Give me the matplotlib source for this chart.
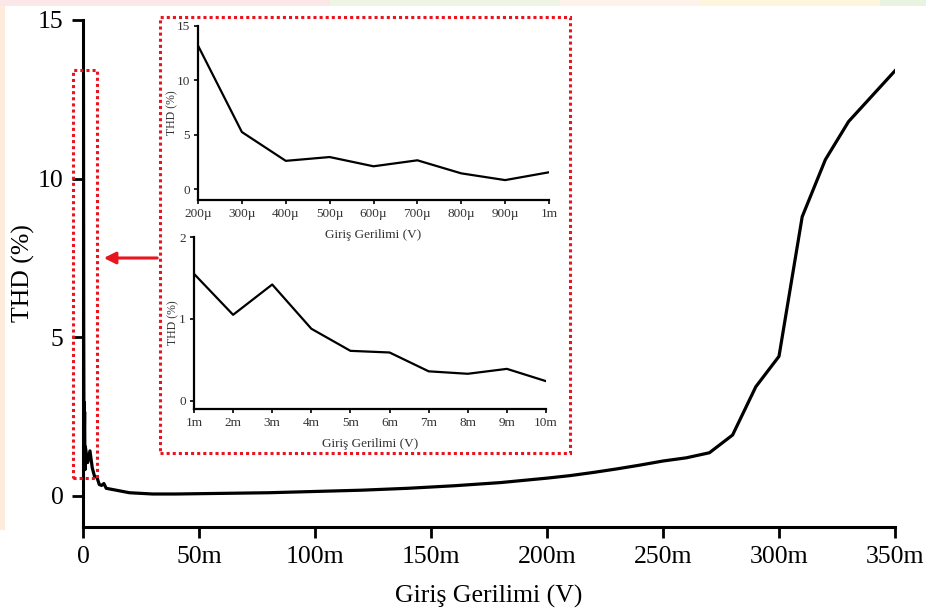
import numpy as np
import matplotlib.pyplot as plt
from matplotlib.patches import Rectangle, FancyArrowPatch

plt.rcParams['font.family'] = ['Liberation Serif', 'DejaVu Serif']

# THD (%) vs input voltage; voltages in mV
v_micro = [0.2, 0.3, 0.4, 0.5, 0.6, 0.7, 0.8, 0.9, 1.0]
thd_micro = [13.2, 5.25, 2.6, 2.95, 2.1, 2.65, 1.45, 0.83, 1.55]

v_milli = [1, 2, 3, 4, 5, 6, 7, 8, 9, 10]
thd_milli = [1.55, 1.05, 1.42, 0.88, 0.61, 0.59, 0.36, 0.33, 0.39, 0.24]

v_full = [20, 30, 40, 50, 60, 70, 80, 90, 100, 110, 120, 130, 140, 150, 160,
          170, 180, 190, 200, 210, 220, 230, 240, 250, 260, 270, 280, 290,
          300, 310, 320, 330, 340, 350]
thd_full = [0.10, 0.06, 0.06, 0.07, 0.08, 0.09, 0.10, 0.12, 0.14, 0.16, 0.18,
            0.21, 0.24, 0.28, 0.32, 0.37, 0.42, 0.49, 0.56, 0.64, 0.74, 0.85,
            0.97, 1.10, 1.20, 1.36, 1.92, 3.44, 4.40, 8.80, 10.6, 11.8, 12.6, 13.4]

main_ticks = [0, 50, 100, 150, 200, 250, 300, 350]
main_ticklabels = ['0', '50m', '100m', '150m', '200m', '250m', '300m', '350m']
micro_ticklabels = ['200µ', '300µ', '400µ', '500µ', '600µ', '700µ', '800µ', '900µ', '1m']
milli_ticklabels = ['1m', '2m', '3m', '4m', '5m', '6m', '7m', '8m', '9m', '10m']

W, H = 926, 612
fig = plt.figure(figsize=(W / 100, H / 100), dpi=100)


def box(x0, y0, x1, y1):
    # pixel box (top-left origin) -> figure fraction rect
    return [x0 / W, 1 - y1 / H, (x1 - x0) / W, (y1 - y0) / H]


def fp(x, y):
    return (x / W, 1 - y / H)


# faint coloured haze along the top and left edges
haze = [(0, 0, 330, 6, '#fbe6e8'), (330, 0, 560, 6, '#eef5e4'),
        (560, 0, 700, 6, '#fdf3ea'), (700, 0, 880, 6, '#fdf5dc'),
        (880, 0, 926, 6, '#e9f4e0'), (0, 6, 5, 530, '#fdebdc')]
for x0, y0, x1, y1, c in haze:
    fig.add_artist(Rectangle(fp(x0, y1), (x1 - x0) / W, (y1 - y0) / H,
                             transform=fig.transFigure, color=c, lw=0, zorder=0))

ax = fig.add_axes(box(83, 20, 895, 527))
ax.patch.set_alpha(0)
all_v = v_micro + v_milli[1:] + v_full
all_thd = thd_micro + thd_milli[1:] + thd_full
ax.plot(all_v, all_thd, color='black', lw=2.3, solid_joinstyle='round')
ax.set_xlim(0, 350)
ax.set_ylim(-0.98, 15)
ax.set_xticks(main_ticks)
ax.set_xticklabels(main_ticklabels)
ax.set_yticks([0, 5, 10, 15])
ax.tick_params(labelsize=18.5, width=2, length=8, pad=6)
for s in ['top', 'right']:
    ax.spines[s].set_visible(False)
for s in ['left', 'bottom']:
    ax.spines[s].set_linewidth(2.2)
ax.set_xlabel('Giriş Gerilimi (V)', fontsize=18.5, labelpad=12)
ax.set_ylabel('THD (%)', fontsize=18.5)
ax.yaxis.set_label_coords((35 - 83) / 812, 0.5)


def style_inset(a):
    a.patch.set_alpha(0)
    for s in ['top', 'right']:
        a.spines[s].set_visible(False)
    for s in ['left', 'bottom']:
        a.spines[s].set_linewidth(1.6)
    a.tick_params(labelsize=9.5, width=1.2, length=3, pad=3, labelcolor='#333333')


ins1 = fig.add_axes(box(198, 26, 549, 200))
ins1.plot(v_micro, thd_micro, color='black', lw=1.6)
ins1.set_xlim(0.2, 1.0)
ins1.set_ylim(-1.0, 15)
ins1.set_xticks(v_micro)
ins1.set_xticklabels(micro_ticklabels)
ins1.set_yticks([0, 5, 10, 15])
style_inset(ins1)
ins1.set_xlabel('Giriş Gerilimi (V)', fontsize=9.5, color='#333333', labelpad=6)
ins1.set_ylabel('THD (%)', fontsize=8.5, color='#333333')
ins1.yaxis.set_label_coords((178 - 198) / 351, 0.5)

ins2 = fig.add_axes(box(194, 237, 546, 409))
ins2.plot(v_milli, thd_milli, color='black', lw=1.6)
ins2.set_xlim(1, 10)
ins2.set_ylim(-0.1, 2)
ins2.set_xticks(v_milli)
ins2.set_xticklabels(milli_ticklabels)
ins2.set_yticks([0, 1, 2])
style_inset(ins2)
ins2.set_xlabel('Giriş Gerilimi (V)', fontsize=9.5, color='#333333', labelpad=6)
ins2.set_ylabel('THD (%)', fontsize=8.5, color='#333333')
ins2.yaxis.set_label_coords((179 - 194) / 352, 0.5)

# red dotted frames and pointer arrow
red = '#e8141e'
for x0, y0, x1, y1 in [(160, 17, 570, 453), (73, 70, 97, 478)]:
    fig.add_artist(Rectangle(fp(x0, y1), (x1 - x0) / W, (y1 - y0) / H,
                             transform=fig.transFigure, fill=False,
                             edgecolor=red, lw=2.2, linestyle=(0, (1, 1)), zorder=5))
fig.add_artist(FancyArrowPatch(fp(160, 258), fp(101, 258), transform=fig.transFigure,
                               arrowstyle='-|>,head_length=7,head_width=3.5',
                               color=red, lw=2.2, zorder=5))

fig.savefig('out.png', dpi=100)
